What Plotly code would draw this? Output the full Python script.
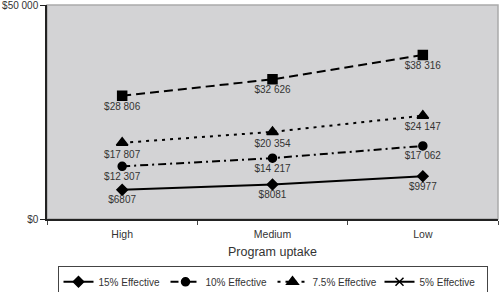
import plotly.graph_objects as go

categories = ["High", "Medium", "Low"]
s15 = [6807, 8081, 9977]
s10 = [12307, 14217, 17062]
s75 = [17807, 20354, 24147]
s_sq = [28806, 32626, 38316]
s5 = [None, None, None]

def fmt(v):
    if v >= 10000:
        return "$" + f"{v:,}".replace(",", " ")
    return f"${v}"

FONT = "Liberation Sans, Arial"
fig = go.Figure()
series = [
    ("15% Effective", s15, "diamond", "solid", 8, True),
    ("10% Effective", s10, "circle", "8px,4px,2px,4px", 8, True),
    ("7.5% Effective", s75, "triangle-up", "3px,5px", 10, True),
    ("5% Effective", s5, "x-thin", "solid", 8, True),
    ("20% Effective", s_sq, "square", "9px,5px", 9, False),
]
for name, vals, sym, dash, msize, showleg in series:
    has = vals[0] is not None
    fig.add_trace(go.Scatter(
        x=categories, y=vals, name=name,
        mode="lines+markers+text" if has else "lines+markers",
        text=[fmt(v) for v in vals] if has else None,
        textposition="bottom center",
        textfont=dict(size=10, color="#333333", family=FONT),
        line=dict(color="black", width=2, dash=dash),
        marker=dict(symbol=sym, size=msize, color="black",
                    line=dict(color="black", width=1.5)),
        showlegend=showleg,
        cliponaxis=False,
    ))

fig.update_layout(
    width=500, height=292,
    margin=dict(l=47, r=2, t=5, b=73),
    paper_bgcolor="white",
    plot_bgcolor="#d3d3d5",
    font=dict(family=FONT, size=10, color="#333333"),
    showlegend=True,
    legend=dict(orientation="h", x=0.5, xanchor="center",
                yref="container", y=0.088, yanchor="top",
                bordercolor="#444444", borderwidth=1, font=dict(size=10),
                entrywidth=62, entrywidthmode="pixels",
                itemwidth=30, tracegroupgap=0, bgcolor="white"),
    xaxis=dict(
        type="category", range=[-0.5, 2.5],
        showgrid=False, showline=True, linecolor="#222222", linewidth=1.5,
        ticks="outside", tickson="boundaries", ticklen=4, tickcolor="#444444",
        ticklabelstandoff=5,
        tickfont=dict(size=10.5),
        title=dict(text="Program uptake", font=dict(size=12.5), standoff=8),
        zeroline=False,
    ),
    yaxis=dict(
        range=[0, 50000], tickvals=[0, 50000], ticktext=["$0", "$50 000"],
        showgrid=False, showline=True, linecolor="#222222", linewidth=1.5,
        ticks="outside", ticklen=5, tickcolor="#222222", zeroline=False,
        tickfont=dict(size=10), automargin=False, ticklabeloverflow="allow",
    ),
    shapes=[dict(type="rect", xref="paper", yref="paper", x0=0, x1=1, y0=0, y1=1,
                 line=dict(color="#aaaaaa", width=1.5), layer="below")],
)

fig.write_html("out.html", config={"displayModeBar": False},
               post_script="document.body.style.margin='0';")
